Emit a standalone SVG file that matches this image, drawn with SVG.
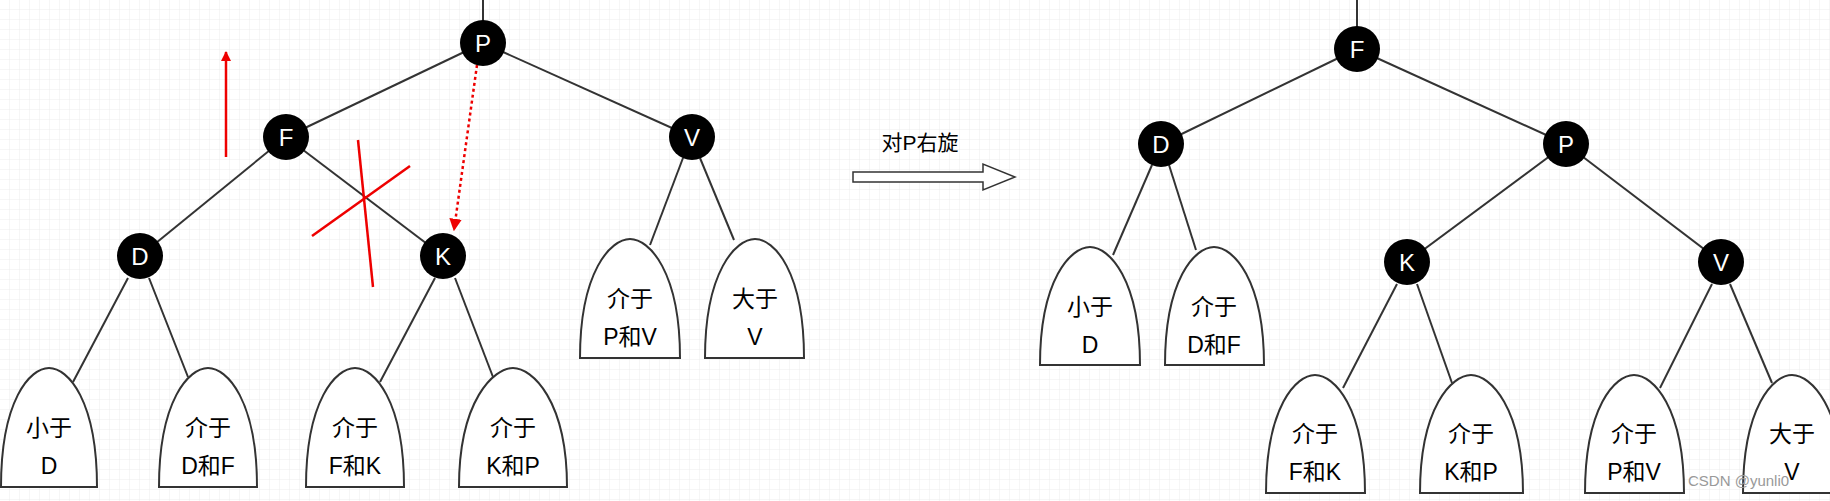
<svg xmlns="http://www.w3.org/2000/svg" width="1830" height="501" viewBox="0 0 1830 501">
<defs>
<pattern id="grid" width="10" height="10" patternUnits="userSpaceOnUse"><path d="M10 0V10H0" fill="none" stroke="#ececec" stroke-width="1"/></pattern>
<marker id="rh" viewBox="0 0 10 10" refX="9" refY="5" markerWidth="4" markerHeight="5" orient="auto"><path d="M0 0L10 5L0 10Z" fill="#e00"/></marker>
<marker id="rh2" viewBox="0 0 10 10" refX="9" refY="5" markerWidth="5" markerHeight="5" orient="auto"><path d="M0 0L10 5L0 10Z" fill="#e00"/></marker>
</defs>
<style>
.e{stroke:#333;stroke-width:2;fill:none}
.n circle{fill:#000}
.n text{fill:#fff;font-family:"Liberation Sans",sans-serif;font-size:24px;text-anchor:middle}
.l path{fill:#fff;stroke:#333;stroke-width:2}
.l text{fill:#000;font-family:"Liberation Sans","Noto Sans CJK SC",sans-serif;font-size:23px;text-anchor:middle}
.r{stroke:#e00;stroke-width:2.5;fill:none}
</style>
<rect width="1830" height="501" fill="#fff"/>
<rect width="1830" height="501" fill="url(#grid)"/>
<g id="connectors">
<line class="e" x1="483" y1="0" x2="483" y2="43"/>
<line class="e" x1="483" y1="43" x2="286" y2="137"/>
<line class="e" x1="483" y1="43" x2="692" y2="137"/>
<line class="e" x1="286" y1="137" x2="140" y2="256"/>
<line class="e" x1="286" y1="137" x2="443" y2="256"/>
<line class="e" x1="128" y1="278" x2="73" y2="382"/>
<line class="e" x1="149" y1="278" x2="188" y2="377"/>
<line class="e" x1="435" y1="278" x2="380" y2="382"/>
<line class="e" x1="455" y1="278" x2="493" y2="377"/>
<line class="e" x1="683" y1="158" x2="650" y2="245"/>
<line class="e" x1="700" y1="158" x2="734" y2="240"/>
<line class="e" x1="1357" y1="0" x2="1357" y2="49"/>
<line class="e" x1="1357" y1="49" x2="1161" y2="144"/>
<line class="e" x1="1357" y1="49" x2="1566" y2="144"/>
<line class="e" x1="1566" y1="144" x2="1407" y2="262"/>
<line class="e" x1="1566" y1="144" x2="1721" y2="262"/>
<line class="e" x1="1152" y1="165" x2="1113" y2="255"/>
<line class="e" x1="1169" y1="165" x2="1196" y2="250"/>
<line class="e" x1="1397" y1="284" x2="1343" y2="388"/>
<line class="e" x1="1417" y1="284" x2="1452" y2="383"/>
<line class="e" x1="1712" y1="284" x2="1660" y2="388"/>
<line class="e" x1="1730" y1="284" x2="1772" y2="383"/>
<path d="M853 172H983V164L1015 177L983 190V182H853Z" fill="#fff" stroke="#333" stroke-width="1.5"/>
<text x="920" y="150" font-family="Liberation Sans,Noto Sans CJK SC,sans-serif" font-size="21" text-anchor="middle">对P右旋</text>
<line class="r" x1="226" y1="157" x2="226" y2="52" stroke-width="4" marker-end="url(#rh)"/>
<line class="r" x1="358" y1="140" x2="373" y2="287"/>
<line class="r" x1="312" y1="236" x2="410" y2="166"/>
<line class="r" x1="477" y1="65" x2="454" y2="230" stroke-dasharray="3,3" stroke-width="2" marker-end="url(#rh2)"/>
</g>
<g id="P1" class="n"><circle cx="483" cy="43" r="23"/><text x="483" y="52">P</text></g>
<g id="F1" class="n"><circle cx="286" cy="137" r="23"/><text x="286" y="146">F</text></g>
<g id="V1" class="n"><circle cx="692" cy="137" r="23"/><text x="692" y="146">V</text></g>
<g id="D1" class="n"><circle cx="140" cy="256" r="23"/><text x="140" y="265">D</text></g>
<g id="K1" class="n"><circle cx="443" cy="256" r="23"/><text x="443" y="265">K</text></g>
<g id="F2" class="n"><circle cx="1357" cy="49" r="23"/><text x="1357" y="58">F</text></g>
<g id="D2" class="n"><circle cx="1161" cy="144" r="23"/><text x="1161" y="153">D</text></g>
<g id="P2" class="n"><circle cx="1566" cy="144" r="23"/><text x="1566" y="153">P</text></g>
<g id="K2" class="n"><circle cx="1407" cy="262" r="23"/><text x="1407" y="271">K</text></g>
<g id="V2" class="n"><circle cx="1721" cy="262" r="23"/><text x="1721" y="271">V</text></g>
<g id="L1" class="l"><path d="M1 487C1 400 30 368 49 368C68 368 97 400 97 487Z"/><text x="49" y="436">小于</text><text x="49" y="474">D</text></g>
<g id="L2" class="l"><path d="M159 487C159 400 189 368 208 368C227 368 257 400 257 487Z"/><text x="208" y="436">介于</text><text x="208" y="474">D和F</text></g>
<g id="L3" class="l"><path d="M306 487C306 400 336 368 355 368C374 368 404 400 404 487Z"/><text x="355" y="436">介于</text><text x="355" y="474">F和K</text></g>
<g id="L4" class="l"><path d="M459 487C459 400 494 368 513 368C532 368 567 400 567 487Z"/><text x="513" y="436">介于</text><text x="513" y="474">K和P</text></g>
<g id="L5" class="l"><path d="M580 358C580 271 611 239 630 239C649 239 680 271 680 358Z"/><text x="630" y="307">介于</text><text x="630" y="345">P和V</text></g>
<g id="L6" class="l"><path d="M705 358C705 271 736 239 755 239C774 239 804 271 804 358Z"/><text x="755" y="307">大于</text><text x="755" y="345">V</text></g>
<g id="R1" class="l"><path d="M1040 365C1040 279 1071 247 1090 247C1109 247 1140 279 1140 365Z"/><text x="1090" y="315">小于</text><text x="1090" y="353">D</text></g>
<g id="R2" class="l"><path d="M1165 365C1165 279 1195 247 1214 247C1233 247 1264 279 1264 365Z"/><text x="1214" y="315">介于</text><text x="1214" y="353">D和F</text></g>
<g id="R3" class="l"><path d="M1266 493C1266 407 1296 375 1315 375C1334 375 1365 407 1365 493Z"/><text x="1315" y="442">介于</text><text x="1315" y="480">F和K</text></g>
<g id="R4" class="l"><path d="M1420 493C1420 407 1452 375 1471 375C1490 375 1523 407 1523 493Z"/><text x="1471" y="442">介于</text><text x="1471" y="480">K和P</text></g>
<g id="R5" class="l"><path d="M1585 493C1585 407 1615 375 1634 375C1653 375 1684 407 1684 493Z"/><text x="1634" y="442">介于</text><text x="1634" y="480">P和V</text></g>
<g id="R6" class="l"><path d="M1743 493C1743 407 1773 375 1792 375C1811 375 1843 407 1843 493Z"/><text x="1792" y="442">大于</text><text x="1792" y="480">V</text></g>
<text x="1688" y="486" font-family="Liberation Sans,sans-serif" font-size="15" fill="#999">CSDN @yunli0</text>
</svg>
